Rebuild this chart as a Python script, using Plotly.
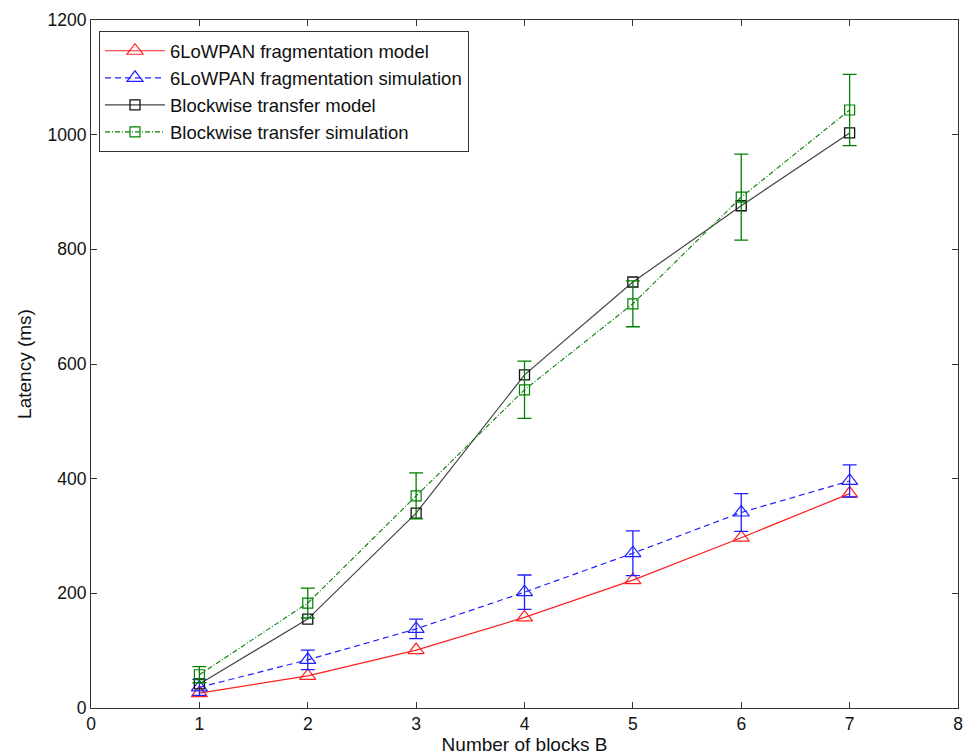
import plotly.graph_objects as go

# Number of blocks B
blocks = [1, 2, 3, 4, 5, 6, 7]

# 6LoWPAN fragmentation
frag_model = [26, 56, 101, 158, 223, 297, 374]
frag_sim = [36, 84, 138, 202, 270, 341, 396]
frag_sim_err = [14, 17, 17, 30, 39, 33, 28]

# Blockwise transfer
block_model = [42, 155, 340, 581, 743, 876, 1003]
block_sim = [58, 183, 370, 555, 705, 891, 1043]
block_sim_err = [14, 26, 40, 50, 40, 75, 62]

x_ticks = [0, 1, 2, 3, 4, 5, 6, 7, 8]
y_ticks = [0, 200, 400, 600, 800, 1000, 1200]

RED = "#ff2020"
BLUE = "#2020ff"
BLACK = "#444444"
GREEN = "#008000"
FONT = "Liberation Sans, Arial, sans-serif"

fig = go.Figure()

fig.add_trace(go.Scatter(
    x=blocks, y=frag_model, name="6LoWPAN fragmentation model",
    mode="lines+markers",
    line=dict(color=RED, width=1.2),
    marker=dict(symbol="triangle-up-open", size=14, color=RED, line=dict(width=1.2)),
))
fig.add_trace(go.Scatter(
    x=blocks, y=frag_sim, name="6LoWPAN fragmentation simulation",
    mode="lines+markers",
    line=dict(color=BLUE, width=1.2, dash="6px,4px"),
    marker=dict(symbol="triangle-up-open", size=14, color=BLUE, line=dict(width=1.2)),
    error_y=dict(type="data", array=frag_sim_err, visible=True, color=BLUE, thickness=1.3, width=7),
))
fig.add_trace(go.Scatter(
    x=blocks, y=block_model, name="Blockwise transfer model",
    mode="lines+markers",
    line=dict(color=BLACK, width=1.2),
    marker=dict(symbol="square-open", size=10, color="#111111", line=dict(width=1.3)),
))
fig.add_trace(go.Scatter(
    x=blocks, y=block_sim, name="Blockwise transfer simulation",
    mode="lines+markers",
    line=dict(color=GREEN, width=1.1, dash="5px,2px,1px,2px"),
    marker=dict(symbol="square-open", size=10, color=GREEN, line=dict(width=1.2)),
    error_y=dict(type="data", array=block_sim_err, visible=True, color=GREEN, thickness=1.3, width=7),
))

axis_common = dict(
    showgrid=False, zeroline=False, showline=True, linecolor="#333333", linewidth=1.2,
    mirror="ticks", ticks="inside", ticklen=6, tickcolor="#333333",
    tickfont=dict(family=FONT, size=17.5, color="#111111"),
)

fig.update_layout(
    width=970, height=756,
    margin=dict(l=91, r=7, t=20, b=48),
    paper_bgcolor="white", plot_bgcolor="white",
    font=dict(family=FONT, size=16, color="#111111"),
    xaxis=dict(range=[0, 8], tickvals=x_ticks, ticktext=[str(v) for v in x_ticks],
               title=dict(text="Number of blocks B", standoff=2,
                          font=dict(size=19)), **axis_common),
    yaxis=dict(range=[0, 1200], tickvals=y_ticks, ticktext=[str(v) for v in y_ticks],
               title=dict(text="Latency (ms)", standoff=10, font=dict(size=19)), **axis_common),
    legend=dict(x=0.009, y=0.984, xanchor="left", yanchor="top",
                bgcolor="white", bordercolor="#333333", borderwidth=1.2,
                font=dict(size=18.5), itemwidth=60, tracegroupgap=0,
                traceorder="normal"),
)

fig.write_html("out.html")
